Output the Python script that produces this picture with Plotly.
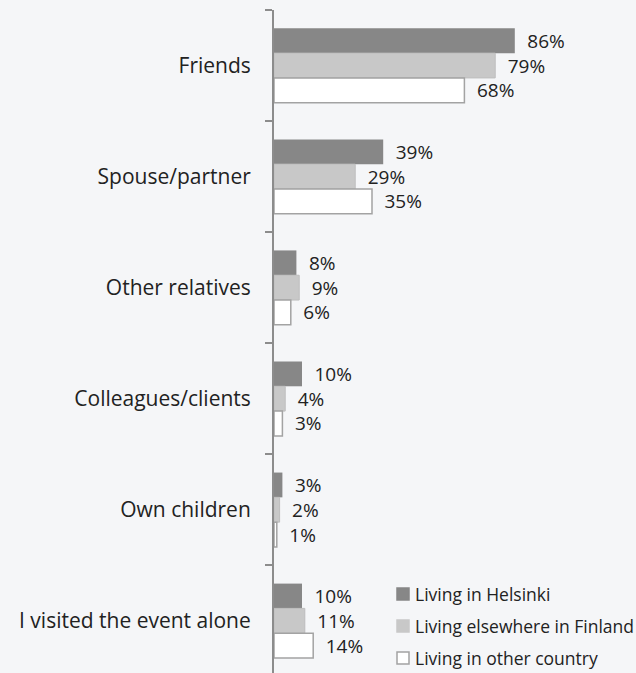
import plotly.graph_objects as go

categories = ["Friends", "Spouse/partner", "Other relatives", "Colleagues/clients",
              "Own children", "I visited the event alone"]
series_names = ["Living in Helsinki", "Living elsewhere in Finland", "Living in other country"]
helsinki = [86, 39, 8, 10, 3, 10]
elsewhere_fi = [79, 29, 9, 4, 2, 11]
other_country = [68, 35, 6, 3, 1, 14]

fills = ["#878787", "#c8c8c8", "#ffffff"]
edges = ["#878787", "#bdbdbd", "#a3a3a3"]
edge_w = [0, 1, 1.5]

BG = "#f5f6f8"
TXT = "#222222"
FONT = "Open Sans, DejaVu Sans, sans-serif"

fig = go.Figure()
for name, vals, fc, ec, ew in zip(series_names, [helsinki, elsewhere_fi, other_country],
                                  fills, edges, edge_w):
    fig.add_trace(go.Bar(
        y=categories, x=vals, name=name, orientation="h",
        marker=dict(color=fc, line=dict(color=ec, width=ew)),
        text=[f"\u2002{v}%" for v in vals], textposition="outside",
        textfont=dict(size=19, color=TXT, family=FONT),
        constraintext="none", cliponaxis=False, showlegend=False,
    ))

# legend drawn as swatches + labels in the lower right
legend_y = [594, 626, 658]
H = 673
for name, fc, ec, yc in zip(series_names, fills, edges, legend_y):
    fig.add_shape(type="rect", xref="paper", yref="paper",
                  x0=(397 - 274) / 280, x1=(409 - 274) / 280,
                  y0=(H - (yc + 6)) / 663, y1=(H - (yc - 6)) / 663,
                  fillcolor=fc, line=dict(color=ec if fc == "#ffffff" else fc, width=1.5))
    fig.add_annotation(xref="paper", yref="paper", x=(413 - 274) / 280,
                       y=(H - yc) / 663, text=name, showarrow=False,
                       xanchor="left", yanchor="middle",
                       font=dict(size=17.5, color=TXT, family=FONT))

fig.update_layout(
    width=636, height=673,
    margin=dict(l=274, r=82, t=10, b=0),
    paper_bgcolor=BG, plot_bgcolor=BG,
    barmode="group", bargap=0.33, bargroupgap=0,
    font=dict(family=FONT, color=TXT),
    xaxis=dict(range=[0, 100], visible=False, showgrid=False, zeroline=False),
    yaxis=dict(range=[5.47, -0.5], type="category",
               showline=True, linecolor="#8c8c8c", linewidth=2,
               ticks="outside", tickson="boundaries", ticklen=7, tickwidth=2,
               tickcolor="#8c8c8c", ticklabelstandoff=17,
               tickfont=dict(size=21, color=TXT, family=FONT),
               showgrid=False, zeroline=False, automargin=False),
)

fig.write_html("out.html")
